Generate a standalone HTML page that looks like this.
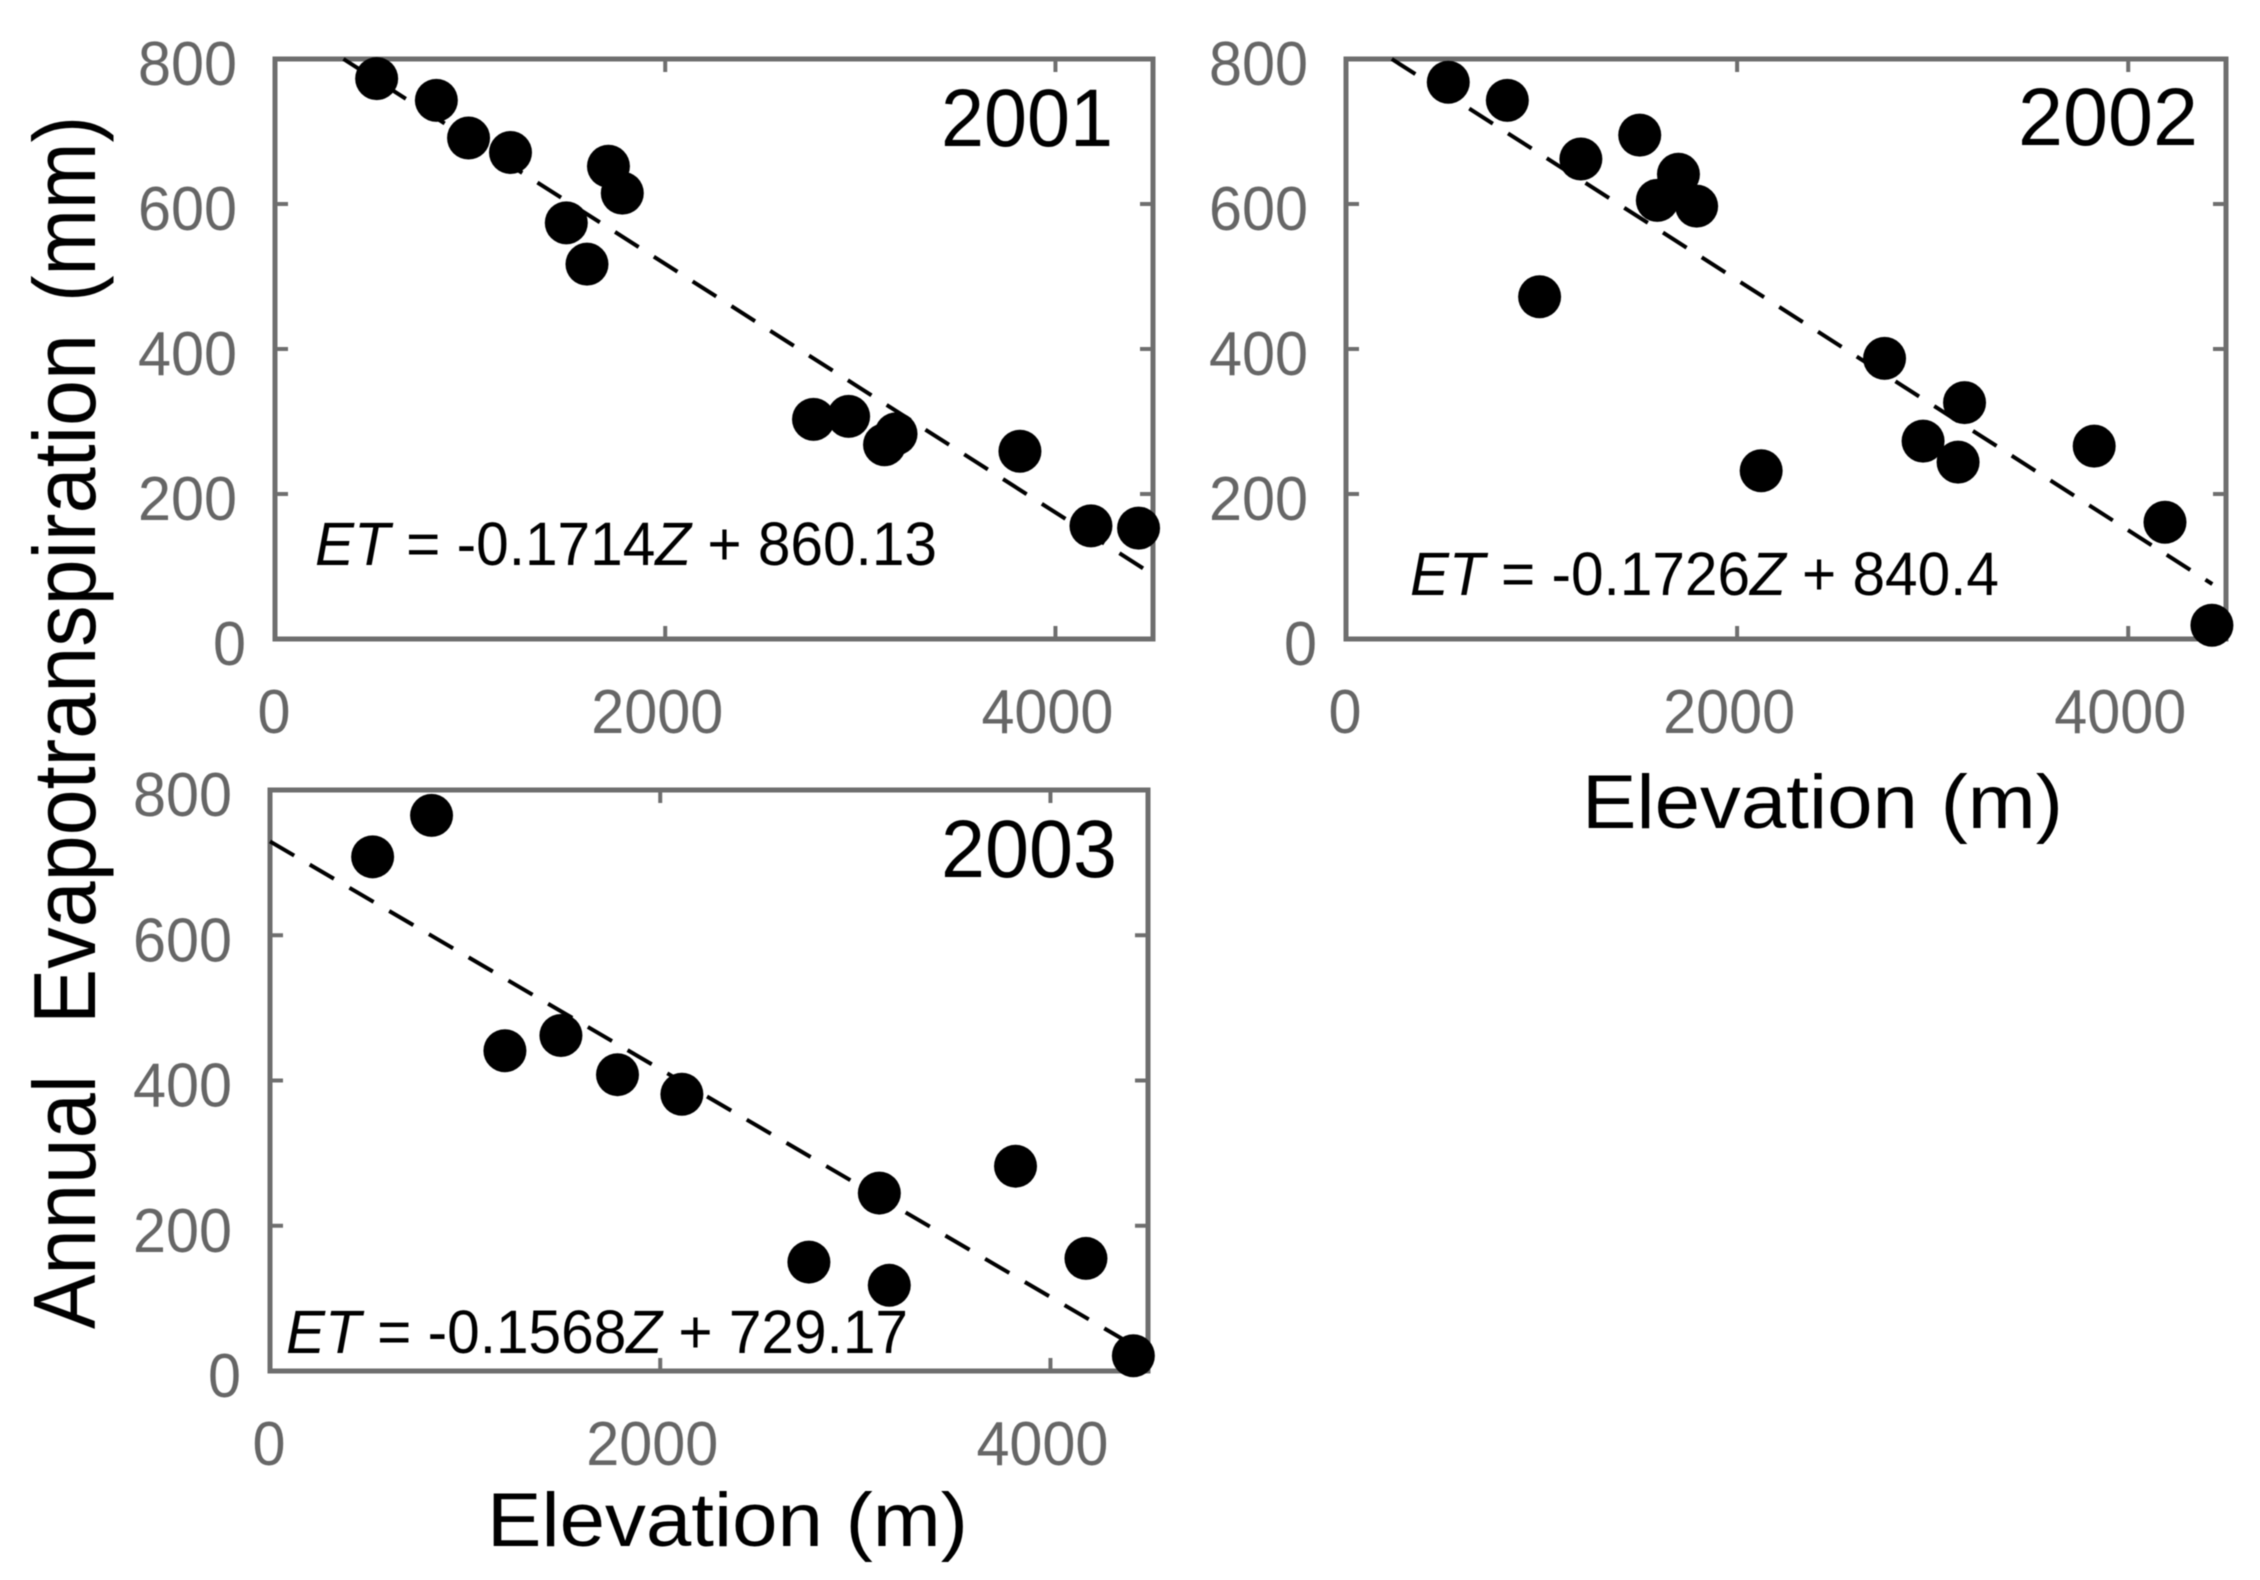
<!DOCTYPE html>
<html lang="en">
<head>
<meta charset="utf-8">
<title>Annual evapotranspiration vs elevation</title>
<style>
html,body{margin:0;padding:0;background:#fff;}
svg{display:block;filter:blur(0.6px);}
text{font-family:"Liberation Sans",sans-serif;}
.tick-label{font-size:62px;fill:#666;}
.year{font-size:82px;fill:#000;}
.eq{font-size:61px;fill:#000;}
.axis-title{font-size:76px;fill:#000;}
.y-title{font-size:88px;fill:#000;}
</style>
</head>
<body>
<svg id="fig" xmlns="http://www.w3.org/2000/svg" width="2260" height="1580" viewBox="0 0 2260 1580">
  <rect width="2260" height="1580" fill="#fff"/>
  <g id="panel-2001"></g>
  <g id="panel-2002"></g>
  <g id="panel-2003"></g>

  <text class="year" x="941" y="146" textLength="172" lengthAdjust="spacingAndGlyphs">2001</text>
  <text class="year" x="2018" y="145" textLength="180" lengthAdjust="spacingAndGlyphs">2002</text>
  <text class="year" x="941" y="877" textLength="176" lengthAdjust="spacingAndGlyphs">2003</text>

  <text class="eq" x="315" y="565" textLength="622" lengthAdjust="spacingAndGlyphs"><tspan font-style="italic">ET</tspan> = -0.1714<tspan font-style="italic">Z</tspan> + 860.13</text>
  <text class="eq" x="1410" y="595" textLength="589" lengthAdjust="spacingAndGlyphs"><tspan font-style="italic">ET</tspan> = -0.1726<tspan font-style="italic">Z</tspan> + 840.4</text>
  <text class="eq" x="286" y="1353" textLength="622" lengthAdjust="spacingAndGlyphs"><tspan font-style="italic">ET</tspan> = -0.1568<tspan font-style="italic">Z</tspan> + 729.17</text>

  <text class="axis-title" x="1582" y="828" textLength="481" lengthAdjust="spacingAndGlyphs">Elevation (m)</text>
  <text class="axis-title" x="487" y="1546" textLength="481" lengthAdjust="spacingAndGlyphs">Elevation (m)</text>
  <g>
    <text class="y-title" transform="translate(95,1329) rotate(-90)" textLength="254" lengthAdjust="spacingAndGlyphs">Annual</text>
    <text class="y-title" transform="translate(95,1024) rotate(-90)" textLength="690" lengthAdjust="spacingAndGlyphs">Evapotranspiration</text>
    <text class="y-title" transform="translate(95,302) rotate(-90)" textLength="186" lengthAdjust="spacingAndGlyphs">(mm)</text>
  </g>
</svg>
<script>
const xTicks = [0, 2000, 4000];
const yTicks = [0, 200, 400, 600, 800];
const xMax = 4500;
const yMax = 800;

const elevation2001 = [521, 827, 992, 1207, 1709, 1780, 1493, 1599, 2760, 2940, 3124, 3183, 3818, 4182, 4426];
const et2001 = [773, 743, 691, 671, 652, 615, 574, 517, 303, 307, 268, 283, 259, 156, 153];
const elevation2002 = [523, 825, 1201, 1502, 1700, 1592, 1793, 990, 2754, 3163, 2951, 3130, 2123, 3826, 4188, 4428];
const et2002 = [768, 743, 662, 695, 641, 605, 597, 472, 387, 326, 273, 244, 232, 266, 161, 19];
const elevation2003 = [526, 828, 1204, 1491, 1781, 2111, 2762, 3123, 3174, 3821, 4182, 4425];
const et2003 = [708, 765, 441, 462, 408, 381, 150, 245, 118, 282, 155, 21];

const slope2001 = -0.1714;
const intercept2001 = 860.13;
const slope2002 = -0.1726;
const intercept2002 = 840.4;
const slope2003 = -0.1568;
const intercept2003 = 729.17;
const lineEnd2001 = 4500;
const lineEnd2002 = 4430;
const lineEnd2003 = 4430;

const NS = 'http://www.w3.org/2000/svg';
const AXIS_COLOR = '#6e6e6e';

function mk(parent, tag, attrs) {
  const el = document.createElementNS(NS, tag);
  for (const k in attrs) el.setAttribute(k, attrs[k]);
  parent.appendChild(el);
  return el;
}

function drawPanel(id, box, xs, ys, slope, intercept, lineEnd) {
  const g = document.getElementById(id);
  const sx = v => box.left + (v / xMax) * (box.right - box.left);
  const sy = v => box.bottom - (v / yMax) * (box.bottom - box.top);

  const frame = mk(g, 'rect', {x: box.left, y: box.top, width: box.right - box.left, height: box.bottom - box.top, fill: 'none', stroke: AXIS_COLOR, 'stroke-width': 5});
  
  

  xTicks.forEach(v => {
    if (v > 0) {
      const t1 = mk(g, 'line', {x1: sx(v), x2: sx(v), y1: box.bottom, y2: box.bottom - 13, stroke: AXIS_COLOR, 'stroke-width': 4});
      
      
      const t2 = mk(g, 'line', {x1: sx(v), x2: sx(v), y1: box.top, y2: box.top + 13, stroke: AXIS_COLOR, 'stroke-width': 4});
      
      
    }
    const lab = mk(g, 'text', {x: sx(v) - (v > 0 ? 8 : 1), y: box.bottom + 94, 'text-anchor': 'middle', class: 'tick-label', textLength: String(v).length * 33, lengthAdjust: 'spacingAndGlyphs'});
    lab.textContent = v;
    
    
  });

  yTicks.forEach(v => {
    if (v > 0 && v < yMax) {
      const t1 = mk(g, 'line', {x1: box.left, x2: box.left + 13, y1: sy(v), y2: sy(v), stroke: AXIS_COLOR, 'stroke-width': 4});
      
      
      const t2 = mk(g, 'line', {x1: box.right, x2: box.right - 13, y1: sy(v), y2: sy(v), stroke: AXIS_COLOR, 'stroke-width': 4});
      
      
    }
    const lab = mk(g, 'text', {x: box.left - 38 + (v === 0 ? 9 : 0), y: sy(v) + 26, 'text-anchor': 'end', class: 'tick-label', textLength: String(v).length * 33, lengthAdjust: 'spacingAndGlyphs'});
    lab.textContent = v;
    
    
  });

  const startX = Math.max(0, (yMax - intercept) / slope);
  const line = mk(g, 'line', {
    x1: sx(startX), y1: sy(slope * startX + intercept),
    x2: sx(lineEnd), y2: sy(slope * lineEnd + intercept),
    stroke: '#000', 'stroke-width': 4, 'stroke-dasharray': '28 18'
  });
  
  

  xs.forEach((x, i) => {
    const c = mk(g, 'circle', {cx: sx(x), cy: sy(ys[i]), r: 21.5, fill: '#000'});
    
    
  });
}

drawPanel('panel-2001', {left: 275, right: 1153, top: 59, bottom: 639}, elevation2001, et2001, slope2001, intercept2001, lineEnd2001);
drawPanel('panel-2002', {left: 1346, right: 2226, top: 59, bottom: 639}, elevation2002, et2002, slope2002, intercept2002, lineEnd2002);
drawPanel('panel-2003', {left: 270, right: 1148, top: 790, bottom: 1371}, elevation2003, et2003, slope2003, intercept2003, lineEnd2003);
</script>
</body>
</html>
